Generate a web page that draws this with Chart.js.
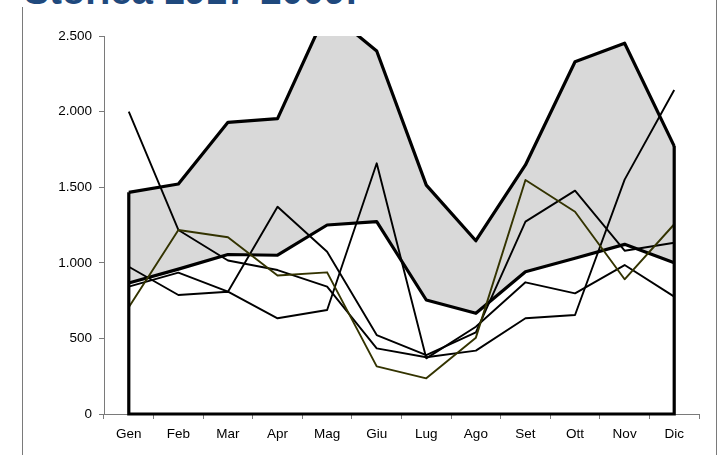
<!DOCTYPE html>
<html>
<head>
<meta charset="utf-8">
<script src="https://cdn.jsdelivr.net/npm/chart.js@4/dist/chart.umd.min.js"></script>
<style>
  html, body { margin: 0; padding: 0; background: #ffffff; }
  #wrap { position: relative; width: 722px; height: 455px; overflow: hidden; background: #ffffff; }
  #title {
    position: absolute; left: 24px; top: -28px; margin: 0;
    font: bold 38px "Liberation Sans", Arial, sans-serif; line-height: 38px;
    color: #1F497D; white-space: nowrap;
  }
  #frameL { position: absolute; left: 22px; top: 7px; width: 1px; height: 448px; background: #7a7a7a; }
  #frameR { position: absolute; left: 716px; top: 0; width: 1px; height: 455px; background: #7a7a7a; }
  #chartBox { position: absolute; left: 0; top: 0; width: 722px; height: 455px; }
</style>
</head>
<body>
<div id="wrap">
  <div id="title">Storica 1917-2009:</div>
  <div id="frameL"></div>
  <div id="frameR"></div>
  <div id="chartBox"><canvas id="c" width="722" height="455"></canvas></div>
</div>
<script>
// Months
const months = ['Gen', 'Feb', 'Mar', 'Apr', 'Mag', 'Giu', 'Lug', 'Ago', 'Set', 'Ott', 'Nov', 'Dic'];

// Historical monthly maximum (grey band top) and mean (white area top)
const maxValues  = [1466, 1521, 1929, 1953, 2670, 2401, 1514, 1146, 1647, 2330, 2452, 1772];
const meanValues = [866, 958, 1055, 1050, 1250, 1272, 754, 666, 941, 1030, 1122, 1001];

// Single-year series
const yearA = [2000, 1217, 1015, 952, 842, 434, 375, 419, 633, 655, 1550, 2143];
const yearB = [974, 787, 809, 633, 688, 1658, 368, 577, 871, 798, 985, 776];
const yearC = [842, 935, 809, 1371, 1073, 522, 390, 540, 1272, 1477, 1080, 1133];
const yearD = [706, 1217, 1169, 916, 937, 315, 236, 505, 1548, 1338, 891, 1255];

// Value axis
const yTicks = [0, 500, 1000, 1500, 2000, 2500];
const yTickLabels = ['0', '500', '1.000', '1.500', '2.000', '2.500'];

const FONT = { family: '"Liberation Sans", Arial, sans-serif', size: 13.5 };

// Closes the max area outline: vertical edges at the first and last month plus the base line
const areaEdges = {
  id: 'areaEdges',
  afterDatasetsDraw(chart) {
    const xs = chart.scales.x, ys = chart.scales.y, ctx = chart.ctx;
    const n = maxValues.length - 1;
    const x0 = xs.getPixelForValue(0), xn = xs.getPixelForValue(n);
    const base = ys.getPixelForValue(0);
    ctx.save();
    ctx.strokeStyle = '#000000';
    ctx.lineWidth = 3.2;
    ctx.lineJoin = 'miter';
    ctx.beginPath();
    ctx.moveTo(x0, ys.getPixelForValue(maxValues[0]));
    ctx.lineTo(x0, base);
    ctx.lineTo(xn, base);
    ctx.lineTo(xn, ys.getPixelForValue(maxValues[n]));
    ctx.stroke();
    ctx.restore();
  }
};

const clipTop = { left: 4, top: 0, right: 4, bottom: 4 };
function thin(data, color) {
  return {
    data, borderColor: color, borderWidth: 1.9, fill: false,
    pointRadius: 0, tension: 0, borderJoinStyle: 'round', clip: clipTop, order: 1
  };
}

new Chart(document.getElementById('c'), {
  type: 'line',
  data: {
    labels: months,
    datasets: [
      thin(yearD, '#333300'),
      thin(yearC, '#000000'),
      thin(yearB, '#000000'),
      thin(yearA, '#000000'),
      {
        data: meanValues, borderColor: '#000000', borderWidth: 3.2,
        backgroundColor: '#ffffff', fill: 'origin', pointRadius: 0, tension: 0,
        borderJoinStyle: 'round', clip: clipTop, order: 5
      },
      {
        data: maxValues, borderColor: '#000000', borderWidth: 3.2,
        backgroundColor: '#d9d9d9', fill: 'origin', pointRadius: 0, tension: 0,
        borderJoinStyle: 'round', clip: clipTop, order: 6
      }
    ]
  },
  options: {
    responsive: false,
    animation: false,
    events: [],
    layout: { padding: { left: 44, right: 23, top: 36, bottom: 11 } },
    plugins: { legend: { display: false }, tooltip: { enabled: false }, title: { display: false } },
    scales: {
      x: {
        type: 'category',
        offset: true,
        grid: {
          display: true, drawOnChartArea: false, offset: true,
          tickLength: 5, color: '#7a7a7a', lineWidth: 1
        },
        border: { display: true, color: '#7a7a7a', width: 1 },
        ticks: { color: '#000000', font: FONT, padding: 7, maxRotation: 0, autoSkip: false },
        afterFit(s) { s.height = 30; }
      },
      y: {
        min: 0, max: 2500,
        afterBuildTicks(s) { s.ticks = yTicks.map(v => ({ value: v })); },
        grid: { display: true, drawOnChartArea: false, tickLength: 5, color: '#7a7a7a', lineWidth: 1 },
        border: { display: true, color: '#7a7a7a', width: 1 },
        ticks: {
          color: '#000000', font: FONT, padding: 7,
          callback(v) { const i = yTicks.indexOf(v); return i >= 0 ? yTickLabels[i] : ''; }
        },
        afterFit(s) { s.width = 60; }
      }
    }
  },
  plugins: [areaEdges]
});
</script>
</body>
</html>
